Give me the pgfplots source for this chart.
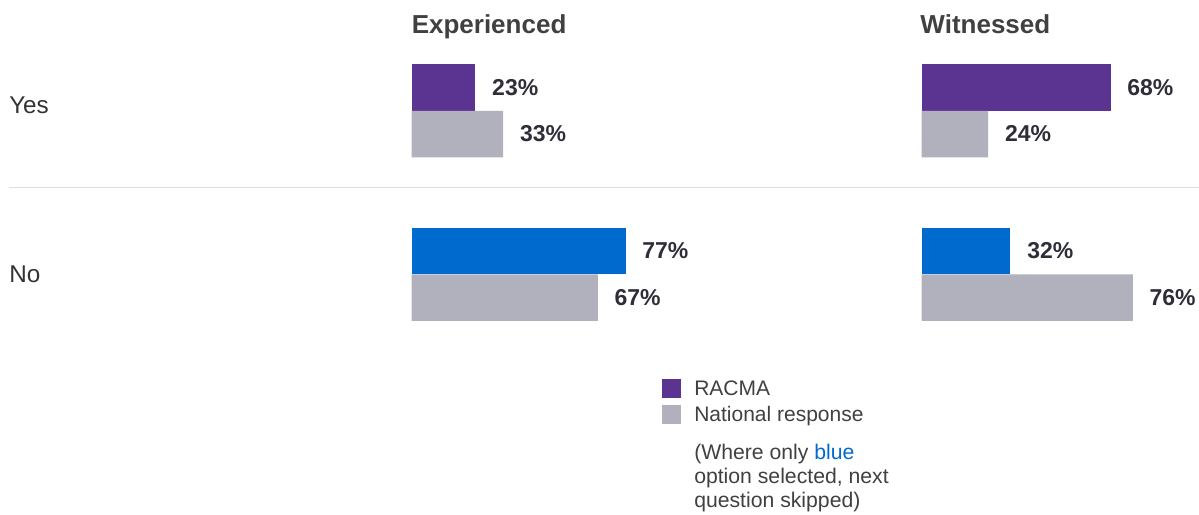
\documentclass[border=0pt]{standalone}
\usepackage{fontspec}
\setmainfont{Liberation Sans}
\usepackage{pgfplots}
\pgfplotsset{compat=1.18}

\definecolor{racma}{RGB}{91,52,145}
\definecolor{natl}{RGB}{177,177,189}
\definecolor{noblue}{RGB}{0,106,206}
\definecolor{valtxt}{RGB}{46,46,56}
\definecolor{titletxt}{RGB}{64,64,64}
\definecolor{cattxt}{RGB}{51,51,51}
\definecolor{sepline}{RGB}{221,221,221}

% 1px of the reference = 0.75pt
\pgfplotsset{
  panel/.style={
    scale only axis, width=208.5pt, height=385.5pt,
    xmin=0, xmax=100, ymin=-0.46636, ymax=2.67737,
    clip=false, anchor=north west,
    axis line style={draw=none}, major tick length=0pt,
    xtick=\empty, ytick=\empty,
    /pgf/number format/assume math mode=true,
    title style={at={(0,1)}, anchor=base west, yshift=-31.1pt, inner sep=0pt,
      font=\fontsize{19.5}{23}\selectfont\bfseries, text=titletxt},
    every axis plot/.append style={xbar, bar width=34.875pt, draw=none, forget plot,
      point meta=x,
      nodes near coords={\pgfmathprintnumber{\pgfplotspointmeta}\%},
      nodes near coords style={anchor=west, xshift=12.4pt, inner sep=0pt,
        font=\fontsize{17.25}{20}\selectfont\bfseries, text=valtxt}},
  },
  racmabar/.style={fill=racma, bar shift=17.44pt, nodes near coords style={yshift=17.44pt}},
  nobar/.style={fill=noblue, bar shift=17.44pt, nodes near coords style={yshift=17.44pt}},
  natbar/.style={fill=natl, bar shift=-17.44pt, nodes near coords style={yshift=-17.44pt}},
}

\begin{document}
\begin{tikzpicture}
\useasboundingbox (0,0) rectangle (899.25pt,-385.5pt);
\draw[sepline, line width=1.2pt] (6.75pt,-140.6pt) -- (899.25pt,-140.6pt);

\begin{axis}[panel, at={(308.625pt,0pt)}, title={Experienced},
  ytick={0.95260,1.98624}, yticklabels={No,Yes},
  yticklabel style={anchor=base west, inner sep=0pt, xshift=-301.875pt,
    font=\fontsize{18.2}{21}\selectfont, text=cattxt},
  legend style={at={(0.9011,0.26265)}, anchor=north west, draw=none, fill=none,
    inner sep=0pt, column sep=9.75pt, row sep=5.25pt,
    font=\fontsize{15.75}{18}\selectfont, text=titletxt,
    nodes={inner sep=0pt, text height=12.5pt, text depth=1.75pt}},
  legend cell align=left]
\addplot[racmabar] coordinates {(23,2)};
\addplot[nobar] coordinates {(77,1)};
\addplot[natbar] coordinates {(33,2) (67,1)};
\addlegendimage{legend image code/.code={\fill[racma] (0pt,-7.125pt) rectangle (14.25pt,7.125pt);}}
\addlegendentry{RACMA}
\addlegendimage{legend image code/.code={\fill[natl] (0pt,-7.125pt) rectangle (14.25pt,7.125pt);}}
\addlegendentry{National response}
\end{axis}

\begin{axis}[panel, at={(691.125pt,0pt)}, title={Witnessed},
  title style={xshift=-1pt}]
\addplot[racmabar] coordinates {(68,2)};
\addplot[nobar] coordinates {(32,1)};
\addplot[natbar] coordinates {(24,2) (76,1)};
\end{axis}

\node[anchor=base west, align=left, inner sep=0pt, text=titletxt,
  font=\fontsize{15.9}{18}\selectfont] at (520.5pt,-380.25pt)
  {(Where only \textcolor{noblue}{blue}\\option selected, next\\question skipped)};
\end{tikzpicture}
\end{document}
